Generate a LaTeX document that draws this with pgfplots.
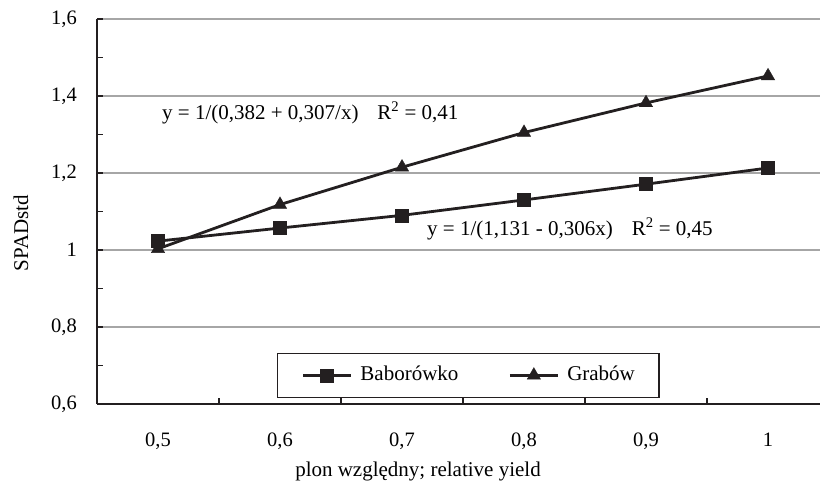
\documentclass[border=0pt]{standalone}
\usepackage{fontspec}
\setmainfont{Liberation Serif}
\usepackage{pgfplots}
\pgfplotsset{compat=1.18}
\definecolor{ink}{HTML}{231F20}
\definecolor{gridgray}{HTML}{A6A6A6}
\newcommand{\lab}{\fontsize{21}{25}\selectfont}
\begin{document}
\begin{tikzpicture}
\begin{axis}[
  name=ax, clip=false,
  scale only axis, width=723pt, height=385pt,
  xmin=-0.5, xmax=5.426, ymin=0.6, ymax=1.6,
  axis x line*=bottom, axis y line*=left,
  axis line style={line width=2pt, draw=ink, -},
  xtick={0,1,2,3,4,5},
  xticklabels={{0,5},{0,6},{0,7},{0,8},{0,9},{1}},
  major x tick style={draw=none},
  minor x tick num=1,
  ytick={0.6,0.8,1,1.2,1.4,1.6},
  minor y tick num=1,
  tick align=inside,
  major tick length=6pt, minor tick length=6pt,
  tick style={line width=1.3pt, draw=ink},
  ymajorgrids, major grid style={line width=1.5pt, draw=gridgray},
  /pgf/number format/.cd, use comma, assume math mode=true, /pgfplots/.cd,
  tick label style={font=\fontsize{20.5}{24}\selectfont, inner sep=0pt},
  yticklabel style={xshift=-20pt},
  xticklabel style={yshift=-29pt},
  legend columns=2,
  legend style={at={(axis description cs:0.249,0.0156)}, anchor=south west,
    draw=ink, line width=1.3pt, fill=white, inner xsep=24pt, inner ysep=12pt,
    font=\lab, nodes={inner sep=0pt, text height=15pt, text depth=5pt},
    /tikz/every odd column/.append style={column sep=8pt},
    /tikz/every even column/.append style={column sep=50pt}},
  legend image code/.code={\draw[mark repeat=2,mark phase=2,#1] plot coordinates {(0pt,0pt)(24pt,0pt)(48pt,0pt)};},
]
\addplot[ink, line width=2.8pt, mark=square*, mark size=6.5pt,
  mark options={solid, fill=ink, draw=ink, line width=0.4pt}]
  coordinates {(0,1.023) (1,1.057) (2,1.090) (3,1.130) (4,1.171) (5,1.213)};
\addlegendentry{Baborówko}
\addplot[ink, line width=2.8pt, mark=triangle*, mark size=7.7pt,
  mark options={solid, fill=ink, draw=ink, line width=0.4pt}]
  coordinates {(0,1.003) (1,1.118) (2,1.215) (3,1.305) (4,1.382) (5,1.452)};
\addlegendentry{Grabów}
\node[anchor=west, inner sep=0pt, font=\lab] at (axis cs:0.033,1.356)
  {y = 1/(0,382 + 0,307/x)\hspace{0.9em}R\textsuperscript{2} = 0,41};
\node[anchor=west, inner sep=0pt, font=\lab] at (axis cs:2.205,1.055)
  {y = 1/(1,131 - 0,306x)\hspace{0.9em}R\textsuperscript{2} = 0,45};
\node[rotate=90, anchor=center, font=\lab] at (axis description cs:-0.1051,0.444) {SPADstd};
\node[anchor=base, font=\lab] at (axis description cs:0.444,-0.1896) {plon względny; relative yield};
\end{axis}
\pgfresetboundingbox
\useasboundingbox ([shift={(-97pt,-77pt)}]ax.south west) rectangle ([shift={(0pt,19pt)}]ax.north east);
\end{tikzpicture}
\end{document}
